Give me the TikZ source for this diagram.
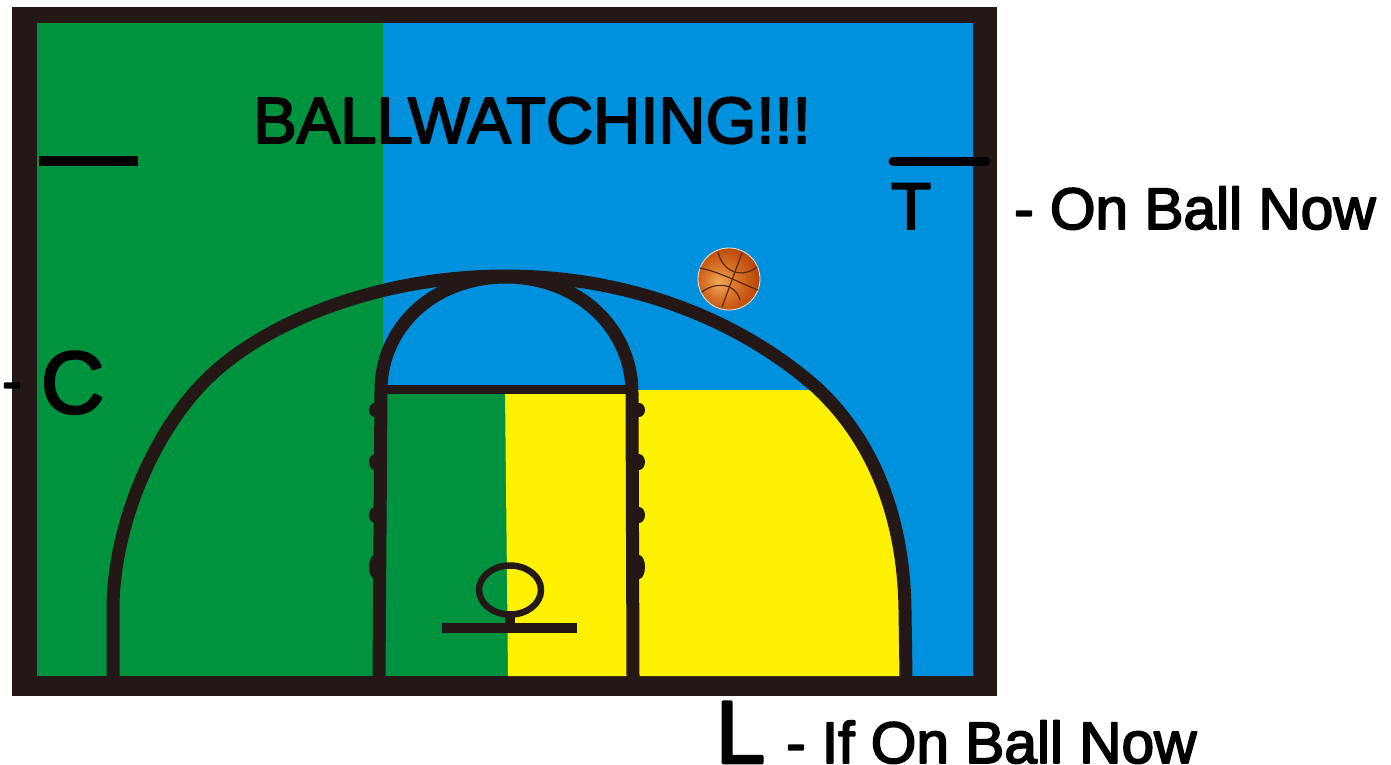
\documentclass[tikz,border=0pt]{standalone}
\usepackage{fontspec}
\setmainfont[FakeBold=3]{Liberation Sans}
\definecolor{courtgreen}{RGB}{0,147,63}
\definecolor{courtblue}{RGB}{0,145,222}
\definecolor{courtyellow}{RGB}{255,242,0}
\definecolor{courtline}{RGB}{35,24,21}
\definecolor{ballseam}{RGB}{90,40,15}
\pgfdeclareradialshading{ballglow}{\pgfpoint{-9bp}{-3bp}}{
  rgb(0bp)=(0.95,0.67,0.36);
  rgb(10bp)=(0.87,0.50,0.20);
  rgb(24bp)=(0.76,0.32,0.06);
  rgb(34bp)=(0.60,0.22,0.04);
  rgb(50bp)=(0.60,0.22,0.04)}

\begin{document}
\begin{tikzpicture}[x=1pt,y=-1pt, line cap=butt, line join=round]

\tikzset{
  lane/.style={draw=courtline, line width=13pt},
  seam/.style={draw=ballseam, line width=1.2pt, line cap=round},
  lab/.style={inner sep=0pt, text=black, font=\fontsize{#1}{#1}\selectfont},
  barline/.style={draw=black, line width=10pt}
}

\useasboundingbox (0,0) rectangle (1391,765);

\fill[courtline] (12,7) rectangle (997,696);
\fill[courtblue] (37,23) rectangle (973,676);
\fill[courtgreen] (37,23) rectangle (383,676);
\fill[courtgreen] (383,390) rectangle (510,676);

\begin{scope}
\clip (113,677) -- (113,610) .. controls (113,530) and (150,438) .. (203,383) .. controls (262,322) and (380,276) .. (505,276) .. controls (630,276) and (740,320) .. (817,388) .. controls (878,445) and (904,525) .. (905,610) -- (906,677) -- cycle;
\fill[courtyellow] (505,390) -- (973,390) -- (973,676) -- (508,676) -- cycle;
\end{scope}

\draw[lane] (113,677) -- (113,610) .. controls (113,530) and (150,438) .. (203,383) .. controls (262,322) and (380,276) .. (505,276) .. controls (630,276) and (740,320) .. (817,388) .. controls (878,445) and (904,525) .. (905,610) -- (906,677);
\draw[lane] (379,677) -- (381,390) .. controls (381,330) and (430,278) .. (505,277) .. controls (580,277) and (632,330) .. (632,393) -- (633,677);
\draw[draw=courtline, line width=9pt] (381,389) -- (633,389);

\foreach \y/\r in {410/7,462/8,515/8,567/12} {
  \fill[courtline] (375,\y) ellipse (6 and \r);
  \fill[courtline] (639,\y) ellipse (6 and \r);
}

\draw[draw=courtline, line width=6.5pt] (510,590) ellipse (31 and 24.5);
\draw[draw=courtline, line width=10pt] (510,614) -- (510,628);
\draw[draw=courtline, line width=10pt] (442,628) -- (577,628);

\draw[barline] (39,161) -- (138,161);
\draw[barline, line width=9pt, line cap=round] (893,161) -- (986,161);

\shade[shading=ballglow] (729,279) circle (31);
\draw[white!80!orange, line width=0.8pt] (729,279) circle (31);
\draw[seam] (742,253) -- (722,307);
\draw[seam] (700,268) .. controls (720,272) and (740,283) .. (758,290);
\draw[seam] (718,252) .. controls (722,270) and (740,280) .. (757,267);
\draw[seam] (702,292) .. controls (715,282) and (735,282) .. (740,300);

\node[lab=65.3, anchor=base west] (title) at (253,143) {BALLWATCHING!!!};
\node[lab=66, anchor=base] (tee) at (911,229) {T};
\node[lab=58.6, anchor=base west] (teetext) at (1014,229) {- On Ball Now};
\node[lab=58, anchor=base west] (ceedash) at (2,413) {\raisebox{12pt}{-}};
\node[lab=88, anchor=base west] (cee) at (40.6,413) {C};
\node[lab=89, anchor=base west] (ell) at (715.5,763) {L};
\node[lab=58.6, anchor=base west] (elltext) at (786,763) {- If On Ball Now};

\end{tikzpicture}
\end{document}
